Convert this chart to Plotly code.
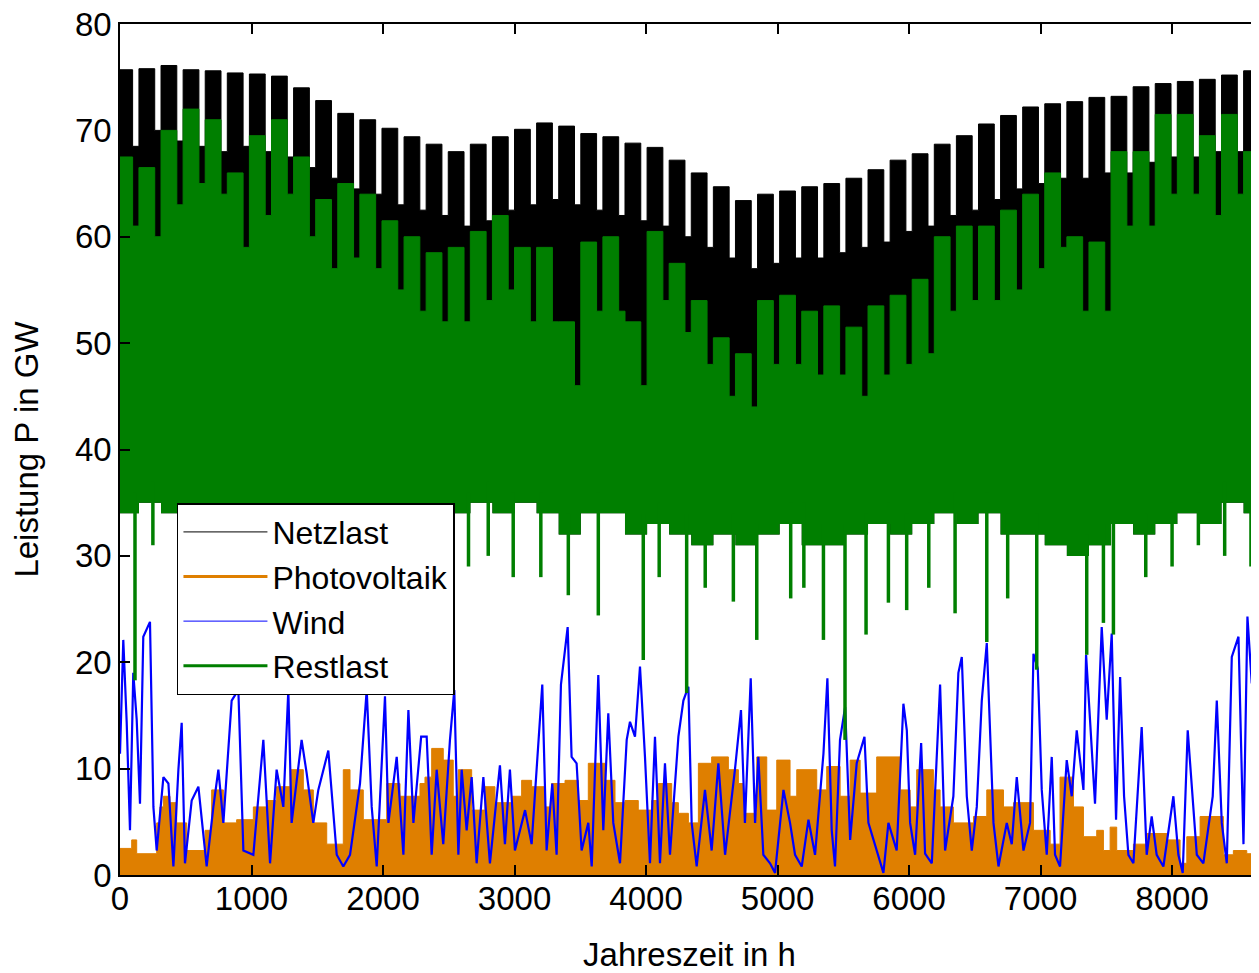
import plotly.graph_objects as go

# ---------------- data ----------------
HOURS_PER_WEEK = 168
weeks = list(range(52))
year_end = 8760

# Netzlast: weekly weekday peak and weekend peak (GW)
netz_weekday = [75.7, 75.8, 76.1, 75.7, 75.6, 75.4, 75.3, 75.1, 74.0, 72.8,
                71.6, 71.0, 70.2, 69.4, 68.7, 68.0, 68.7, 69.4, 70.1, 70.7,
                70.4, 69.7, 69.4, 68.8, 68.4, 67.2, 66.0, 64.7, 63.4, 64.0,
                64.3, 64.7, 65.0, 65.5, 66.3, 67.2, 67.8, 68.7, 69.5, 70.6,
                71.4, 72.2, 72.5, 72.7, 73.1, 73.2, 74.1, 74.4, 74.6, 74.8,
                75.2, 75.6]
netz_weekend = [68.5, 70.0, 69.0, 68.5, 68.0, 68.5, 68.0, 67.5, 66.5, 65.5,
                64.5, 64.0, 63.0, 62.5, 62.0, 61.0, 61.5, 62.5, 63.0, 63.5,
                63.0, 62.5, 62.0, 61.5, 61.0, 60.0, 59.0, 58.0, 57.0, 57.5,
                58.0, 58.0, 58.5, 59.0, 59.5, 60.5, 61.0, 62.0, 62.5, 63.5,
                64.5, 65.0, 65.5, 65.5, 66.0, 66.0, 67.0, 67.5, 67.5, 68.0,
                68.0, 68.5]

# Restlast: weekly upper level (weekday / weekend) and lower solid level
rest_weekday = [67.5, 66.5, 70.0, 72.0, 71.0, 66.0, 69.5, 71.0, 67.5, 63.5,
                65.0, 64.0, 61.5, 60.0, 58.5, 59.0, 60.5, 62.0, 59.0, 59.0,
                52.0, 59.5, 60.0, 52.0, 60.5, 57.5, 54.0, 50.5, 49.0, 54.0,
                54.5, 53.0, 53.5, 51.5, 53.5, 54.5, 56.0, 60.0, 61.0, 61.0,
                62.5, 64.0, 66.0, 60.0, 59.5, 68.0, 68.0, 71.5, 71.5, 69.5,
                71.5, 68.0]
rest_weekend = [61, 60, 63, 65, 64, 59, 62, 64, 60, 57,
                58, 57, 55, 53, 52, 52, 54, 55, 52, 52,
                46, 53, 53, 46, 54, 51, 48, 45, 44, 48,
                48, 47, 47, 45, 47, 48, 49, 53, 54, 54,
                55, 57, 59, 53, 53, 61, 61, 64, 64, 62,
                64, 61]
rest_floor = [34, 35, 34, 34, 34, 34, 34, 34, 34, 34,
              34, 34, 34, 34, 34, 34, 35, 34, 35, 34,
              32, 34, 34, 32, 33, 32, 31, 32, 31, 32,
              33, 31, 31, 32, 33, 32, 33, 34, 33, 34,
              32, 32, 31, 30, 31, 33, 32, 33, 34, 33,
              35, 34]
# deep Restlast minima (hour, GW)
rest_dip_h = [114, 250, 2650, 2800, 2990, 3200, 3409, 3637, 3979, 4100,
              4309, 4450, 4664, 4842, 5100, 5200, 5349, 5513, 5673, 5843,
              5982, 6150, 6350, 6591, 6750, 6971, 7351, 7478, 7554, 7800,
              8000, 8200, 8400, 8600]
rest_dip_v = [18.3, 31.0, 29.0, 30.0, 28.0, 28.0, 26.3, 24.4, 20.2, 28.0,
              17.1, 27.0, 25.7, 22.1, 26.0, 27.0, 22.1, 12.7, 22.6, 25.6,
              24.9, 27.0, 24.6, 21.9, 26.0, 19.3, 20.7, 23.7, 22.6, 28.0,
              29.0, 31.0, 30.0, 29.0]

# Photovoltaik: step levels (start hour, GW)
pv_h = [0, 89, 127, 279, 304, 330, 380, 431, 507, 647, 697, 786, 887, 1014,
        1115, 1191, 1293, 1394, 1470, 1572, 1698, 1749, 1850, 2028, 2129,
        2281, 2319, 2370, 2458, 2534, 2573, 2674, 2775, 2851, 2978, 3054,
        3130, 3232, 3282, 3384, 3485, 3561, 3688, 3764, 3840, 3941, 4043,
        4094, 4195, 4246, 4322, 4398, 4499, 4626, 4702, 4740, 4842, 4918,
        4994, 5095, 5146, 5298, 5374, 5476, 5552, 5628, 5754, 5932, 6008,
        6058, 6185, 6236, 6337, 6490, 6591, 6718, 6794, 6946, 7073, 7148,
        7250, 7326, 7427, 7478, 7529, 7579, 7706, 7807, 7960, 8061, 8112,
        8213, 8390, 8466, 8568]
pv_v = [2.5, 3.3, 2.0, 4.9, 6.4, 7.4, 6.8, 4.9, 2.3, 4.2, 8.0, 4.9, 5.2, 6.4,
        7.0, 8.3, 9.9, 8.0, 4.9, 2.9, 9.9, 8.0, 5.2, 8.6, 7.4,
        8.6, 9.2, 11.9, 10.8, 7.4, 9.9, 6.1, 8.3, 6.8, 7.4, 8.9,
        8.3, 6.4, 8.6, 8.9, 7.0, 10.5, 8.9, 6.8, 7.0, 6.1, 7.0,
        8.6, 6.8, 5.8, 4.9, 10.5, 11.1, 9.9, 8.6, 5.8, 11.1, 6.1,
        10.8, 7.4, 9.9, 8.0, 10.2, 7.4, 10.8, 7.7, 11.1, 8.0, 6.4,
        9.9, 8.0, 6.4, 4.9, 5.5, 8.0, 6.4, 6.8, 4.2, 2.9, 9.2,
        6.4, 3.6, 4.2, 2.3, 4.5, 2.3, 2.9, 3.9, 3.3, 1.1, 3.6,
        5.5, 1.9, 2.3, 2.0]

# Wind: turning points (hour, GW)
wind_h = [0, 25, 51, 76, 101, 127, 152, 177, 228, 254, 279, 330, 368, 406,
          444, 469, 494, 545, 596, 659, 710, 748, 786, 849, 900, 938, 1014,
          1090, 1141, 1191, 1242, 1280, 1305, 1381, 1419, 1470, 1508, 1584,
          1648, 1698, 1749, 1825, 1876, 1914, 1952, 2015, 2041, 2104, 2155,
          2193, 2231, 2290, 2332, 2370, 2408, 2458, 2509, 2542, 2573, 2598,
          2636, 2674, 2712, 2763, 2813, 2889, 2927, 2965, 3003, 3080, 3130,
          3211, 3244, 3287, 3320, 3353, 3404, 3434, 3472, 3510, 3561, 3587,
          3637, 3675, 3713, 3751, 3802, 3853, 3878, 3916, 3954, 3992, 4030,
          4068, 4106, 4144, 4182, 4246, 4284, 4322, 4347, 4385, 4448, 4499,
          4550, 4601, 4676, 4722, 4752, 4796, 4829, 4854, 4892, 4943, 4981,
          5045, 5095, 5133, 5184, 5235, 5285, 5349, 5379, 5412, 5437, 5475,
          5514, 5552, 5602, 5661, 5691, 5754, 5805, 5843, 5906, 5957, 5983,
          6008, 6046, 6092, 6122, 6173, 6236, 6274, 6337, 6375, 6401, 6439,
          6477, 6515, 6553, 6591, 6642, 6680, 6743, 6781, 6819, 6870, 6920,
          6946, 6979, 7009, 7047, 7085, 7110, 7148, 7199, 7237, 7275, 7326,
          7346, 7376, 7414, 7465, 7503, 7541, 7574, 7605, 7635, 7668, 7706,
          7769, 7807, 7845, 7883, 7934, 8010, 8048, 8081, 8119, 8150, 8188,
          8238, 8309, 8340, 8378, 8416, 8454, 8505, 8543, 8573, 8606, 8631,
          8662]
wind_v = [11.4, 22.1, 14.3, 4.2, 19.0, 14.6, 6.7, 22.4, 23.8, 6.4, 2.3, 9.2, 8.6, 0.8,
          9.9, 14.3, 1.1, 7.0, 8.3, 0.8, 6.4, 9.9, 4.9, 16.4, 17.4, 2.3, 1.9,
          12.7, 1.1, 9.9, 6.4, 17.4, 4.9, 12.7, 9.6, 4.9, 8.0, 11.7,
          1.9, 0.8, 1.9, 8.6, 17.4, 6.4, 0.8, 16.8, 4.9, 11.1, 1.9,
          15.5, 4.9, 13.0, 13.0, 1.9, 9.9, 2.9, 12.7, 17.4, 1.9, 9.9,
          4.2, 9.2, 1.1, 9.2, 1.1, 10.3, 2.9, 9.9, 2.3, 6.1, 2.9,
          17.9, 2.3, 8.6, 1.9, 17.9, 23.3, 11.1, 10.5, 2.3, 4.9, 0.8,
          18.8, 4.2, 15.2, 4.9, 1.1, 12.7, 14.4, 13.0, 19.6, 11.1, 1.1,
          13.0, 1.1, 10.5, 1.9, 13.0, 16.4, 17.7, 4.9, 0.8, 8.0, 2.3,
          10.5, 1.9, 9.9, 15.5, 4.9, 18.5, 4.9, 11.1, 1.9, 1.1, 0.2,
          8.0, 4.9, 1.9, 0.8, 5.2, 1.9, 11.4, 18.5, 4.2, 0.8, 12.7,
          15.8, 3.3, 10.5, 13.0, 4.9, 2.3, 0.2, 4.9, 2.3, 16.1, 13.6,
          4.9, 1.9, 12.4, 2.0, 1.1, 17.9, 2.3, 7.4, 19.0, 20.5, 7.4,
          2.3, 6.4, 16.4, 21.8, 4.9, 0.8, 4.9, 2.9, 9.2, 2.3, 4.9,
          20.8, 19.4, 8.0, 1.9, 11.1, 1.9, 0.8, 10.8, 7.4, 13.6, 8.0,
          20.7, 14.6, 6.7, 23.3, 14.6, 22.7, 5.2, 18.6, 7.4, 1.9, 1.1,
          13.9, 1.9, 5.5, 1.9, 0.8, 7.4, 1.9, 0.2, 13.6, 8.0, 1.9,
          1.1, 7.4, 16.4, 4.9, 1.1, 20.5, 22.4, 2.9, 24.3, 18.0, 22.1,
          14.3]

x_ticks = [0, 1000, 2000, 3000, 4000, 5000, 6000, 7000, 8000]
y_ticks = [0, 10, 20, 30, 40, 50, 60, 70, 80]
series_names = ["Netzlast", "Photovoltaik", "Wind", "Restlast"]

# ---------------- styling ----------------
C_NETZ = "#000000"
C_PV = "#df7f00"
C_WIND = "#0000ff"
C_REST = "#007f00"
FONT = "Liberation Sans, Arial, sans-serif"
FS_TICK = 33
FS_TEXT = 33
FS_LEG = 32

# weekly structure: Monday-Friday block, then weekend
week_start = [max(0, HOURS_PER_WEEK * w - 24) for w in weeks]
weekend_start = [HOURS_PER_WEEK * w + 96 for w in weeks]


def step_xy(a, b):
    xs, ys = [], []
    for w in weeks:
        xs += [week_start[w], weekend_start[w]]
        ys += [a[w], b[w]]
    xs.append(year_end)
    ys.append(b[-1])
    return xs, ys


floor_x = week_start + [year_end]
floor_y = rest_floor + [rest_floor[-1]]

fig = go.Figure()

# Netzlast (band above the Restlast floor)
fig.add_trace(go.Scatter(x=floor_x, y=floor_y, mode="lines", line=dict(width=0, shape="hv"),
                         showlegend=False, hoverinfo="skip"))
nx, ny = step_xy(netz_weekday, netz_weekend)
fig.add_trace(go.Scatter(x=nx, y=ny, mode="lines", line=dict(color=C_NETZ, width=1, shape="hv"),
                         fill="tonexty", fillcolor=C_NETZ, showlegend=False, name="Netzlast"))

# Photovoltaik
fig.add_trace(go.Scatter(x=pv_h + [year_end], y=pv_v + [pv_v[-1]], mode="lines",
                         line=dict(color=C_PV, width=1, shape="hv"),
                         fill="tozeroy", fillcolor=C_PV, showlegend=False, name="Photovoltaik"))

# Wind
fig.add_trace(go.Scatter(x=wind_h, y=wind_v, mode="lines", line=dict(color=C_WIND, width=2.2),
                         showlegend=False, name="Wind"))

# Restlast band
fig.add_trace(go.Scatter(x=floor_x, y=floor_y, mode="lines", line=dict(width=0, shape="hv"),
                         showlegend=False, hoverinfo="skip"))
rx, ry = step_xy(rest_weekday, rest_weekend)
fig.add_trace(go.Scatter(x=rx, y=ry, mode="lines", line=dict(color=C_REST, width=1, shape="hv"),
                         fill="tonexty", fillcolor=C_REST, showlegend=False, name="Restlast"))

# Restlast deep minima
sx, sy = [], []
for h, v in zip(rest_dip_h, rest_dip_v):
    w = min(h // HOURS_PER_WEEK, len(rest_floor) - 1)
    sx += [h, h, None]
    sy += [rest_floor[w] + 2, v, None]
fig.add_trace(go.Scatter(x=sx, y=sy, mode="lines", line=dict(color=C_REST, width=3.5),
                         showlegend=False, hoverinfo="skip"))

# legend entries (line samples as in the original)
for name, col, wd in zip(series_names, [C_NETZ, C_PV, C_WIND, C_REST], [1, 3, 1, 3]):
    fig.add_trace(go.Scatter(x=[None], y=[None], mode="lines", name=name,
                             line=dict(color=col, width=wd)))

# the page adds an 8 px body margin, so the figure is shifted by 8 px
fig.update_layout(
    width=1251, height=965,
    margin=dict(l=112, r=0, t=16, b=98),
    paper_bgcolor="white", plot_bgcolor="white",
    font=dict(family=FONT, size=FS_TEXT, color="black"),
    showlegend=True,
    legend=dict(x=0.05, y=0.437, xanchor="left", yanchor="top",
                bgcolor="white", bordercolor="black", borderwidth=1.5,
                font=dict(size=FS_LEG), itemwidth=84, traceorder="normal",
                tracegroupgap=0),
    xaxis=dict(range=[0, 8661], tickvals=x_ticks, ticks="inside", ticklen=10,
               tickwidth=1.5, tickcolor="black", showline=True, linecolor="black",
               linewidth=1.5, mirror="ticks", showgrid=False, zeroline=False,
               automargin=False, ticklabelstandoff=-6, ticklabeloverflow="allow",
               title=dict(text="Jahreszeit in h", standoff=30, font=dict(size=FS_TEXT)),
               tickfont=dict(size=FS_TICK)),
    yaxis=dict(range=[0, 80], tickvals=y_ticks, ticks="inside", ticklen=10,
               tickwidth=1.5, tickcolor="black", showline=True, linecolor="black",
               linewidth=1.5, mirror=False, showgrid=False, zeroline=False,
               automargin=False, ticklabeloverflow="allow",
               title=dict(text="Leistung P in GW", standoff=30, font=dict(size=FS_TEXT)),
               tickfont=dict(size=FS_TICK)),
)

fig.write_html("out.html")
